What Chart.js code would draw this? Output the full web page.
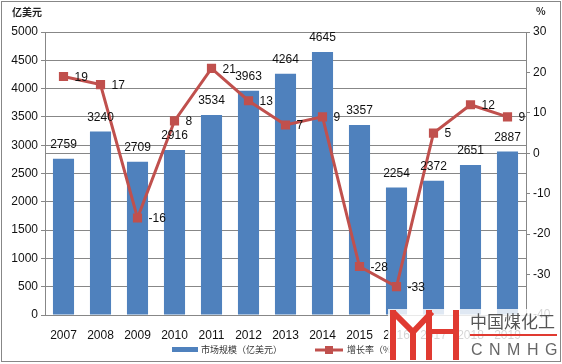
<!DOCTYPE html>
<html>
<head>
<meta charset="utf-8">
<script src="https://cdn.jsdelivr.net/npm/chart.js@4"></script>
<style>
  body { margin: 0; background: #fff; }
  #wrap { position: relative; width: 562px; height: 364px; overflow: hidden; }
  #frame { position: absolute; left: 1px; top: 1px; width: 560px; height: 361px; border: 1px solid #878787; box-sizing: border-box; pointer-events: none; }
  .unit { position: absolute; font: bold 10px "Noto Sans CJK SC", sans-serif; color: #222; }
  #mark { position: absolute; left: 388px; top: 309px; width: 174px; height: 55px; background: rgba(255,255,255,0.82); }
  #mark .cn { position: absolute; left: 82px; top: 1px; font: 17px "Noto Sans CJK SC", sans-serif; color: #555; white-space: nowrap; line-height: 22px; }
  #mark .rule { position: absolute; left: 82px; top: 25px; width: 87px; height: 2px; background: #e03a31; }
  #mark .en { position: absolute; left: 83px; top: 30px; font: 16px "Liberation Sans", sans-serif; color: #666; letter-spacing: 6.5px; white-space: nowrap; line-height: 22px; }
</style>
</head>
<body>
<div id="wrap">
  <canvas id="chart" width="562" height="364"></canvas>
  <div class="unit" style="left:12px; top:4px;">亿美元</div>
  <div class="unit" style="left:536px; top:3px;">%</div>
  <div id="mark">
    <svg width="80" height="55" style="position:absolute;left:0;top:0">
      <rect x="2" y="1" width="6" height="50" fill="#e03a31"/>
      <polyline points="5,3 25,23 44,3" fill="none" stroke="#e03a31" stroke-width="6"/>
      <rect x="22" y="21" width="6" height="30" fill="#e03a31"/>
      <rect x="38" y="1" width="6" height="50" fill="#e03a31"/>
      <rect x="44" y="20" width="22" height="5" fill="#e03a31"/>
      <rect x="65" y="1" width="6" height="50" fill="#e03a31"/>
    </svg>
    <div class="cn">中国煤化工</div>
    <div class="rule"></div>
    <div class="en">CNMHG</div>
  </div>
  <div id="frame"></div>
</div>
<script>
// --- Data ---
const years = ['2007', '2008', '2009', '2010', '2011', '2012', '2013', '2014', '2015', '2016', '2017', '2018', '2019'];
const marketSize = [2759, 3240, 2709, 2916, 3534, 3963, 4264, 4645, 3357, 2254, 2372, 2651, 2887];
const growthRate = [19, 17, -16, 8, 21, 13, 7, 9, -28, -33, 5, 12, 9];
const sizeLabel = '市场规模（亿美元）';
const growthLabel = '增长率（%）';

const BAR_BLUE = '#4f81bd';
const LINE_RED = '#c0504d';
const GRID = '#878787';
const NUM_FONT = '"Liberation Sans Narrow", "Liberation Sans", sans-serif';

// draws value labels and the bottom legend
const labelsPlugin = {
    id: 'labels',
    afterDatasetsDraw(chart) {
        const ctx = chart.ctx;
        ctx.save();
        ctx.fillStyle = '#111';
        ctx.font = '12px ' + NUM_FONT;
        ctx.textBaseline = 'middle';

        ctx.textAlign = 'center';
        chart.getDatasetMeta(0).data.forEach((bar, i) => {
            ctx.fillText(marketSize[i], bar.x, bar.y - 14);
        });

        ctx.textAlign = 'left';
        chart.getDatasetMeta(1).data.forEach((pt, i) => {
            ctx.fillText(growthRate[i], pt.x + 11, pt.y + 1);
        });
        ctx.restore();
    },
    afterDraw(chart) {
        const ctx = chart.ctx;
        const y = 350;
        ctx.save();
        // bar legend
        ctx.fillStyle = BAR_BLUE;
        ctx.fillRect(172, y - 3, 26, 5);
        // line legend
        ctx.strokeStyle = LINE_RED;
        ctx.lineWidth = 3;
        ctx.beginPath();
        ctx.moveTo(315, y);
        ctx.lineTo(343, y);
        ctx.stroke();
        ctx.fillStyle = LINE_RED;
        ctx.fillRect(325, y - 4, 8, 8);

        ctx.fillStyle = '#333';
        ctx.font = '9px "Noto Sans CJK SC", sans-serif';
        ctx.textBaseline = 'middle';
        ctx.textAlign = 'left';
        ctx.fillText(chart.data.datasets[0].label, 201, y);
        ctx.fillText(chart.data.datasets[1].label, 347, y);
        ctx.restore();
    }
};

const ctx = document.getElementById('chart').getContext('2d');
const chart = new Chart(ctx, {
    data: {
        labels: years,
        datasets: [
            {
                type: 'bar',
                label: sizeLabel,
                data: marketSize,
                backgroundColor: BAR_BLUE,
                barPercentage: 0.57,
                categoryPercentage: 1.0,
                yAxisID: 'y',
                order: 2
            },
            {
                type: 'line',
                label: growthLabel,
                data: growthRate,
                borderColor: LINE_RED,
                backgroundColor: LINE_RED,
                borderWidth: 3,
                pointStyle: 'rect',
                pointRadius: 6.5,
                pointBorderWidth: 0,
                tension: 0,
                yAxisID: 'y1',
                order: 1
            }
        ]
    },
    options: {
        responsive: false,
        animation: false,
        layout: { padding: { top: 32, left: 0, right: 0, bottom: 0 } },
        plugins: {
            legend: { display: false },
            tooltip: { enabled: false }
        },
        scales: {
            x: {
                grid: { display: false },
                border: { display: true, color: GRID },
                ticks: { color: '#111', font: { size: 12, family: NUM_FONT }, padding: 5, maxRotation: 0 },
                afterFit: (s) => { s.height = 49; }
            },
            y: {
                position: 'left',
                min: 0,
                max: 5000,
                ticks: { stepSize: 500, color: '#111', font: { size: 12, family: NUM_FONT }, padding: 3, callback: (v) => String(v) },
                grid: { color: GRID, tickLength: 4 },
                border: { color: GRID },
                afterFit: (s) => { s.width = 45; }
            },
            y1: {
                position: 'right',
                min: -40,
                max: 30,
                ticks: { stepSize: 10, color: '#111', font: { size: 12, family: NUM_FONT }, padding: 3, callback: (v) => String(v) },
                grid: {
                    drawOnChartArea: true,
                    color: (c) => (c.tick && c.tick.value === 0 ? GRID : 'rgba(0,0,0,0)'),
                    tickColor: GRID,
                    tickLength: 4
                },
                border: { color: GRID },
                afterFit: (s) => { s.width = 36; }
            }
        }
    },
    plugins: [labelsPlugin]
});
</script>
</body>
</html>
